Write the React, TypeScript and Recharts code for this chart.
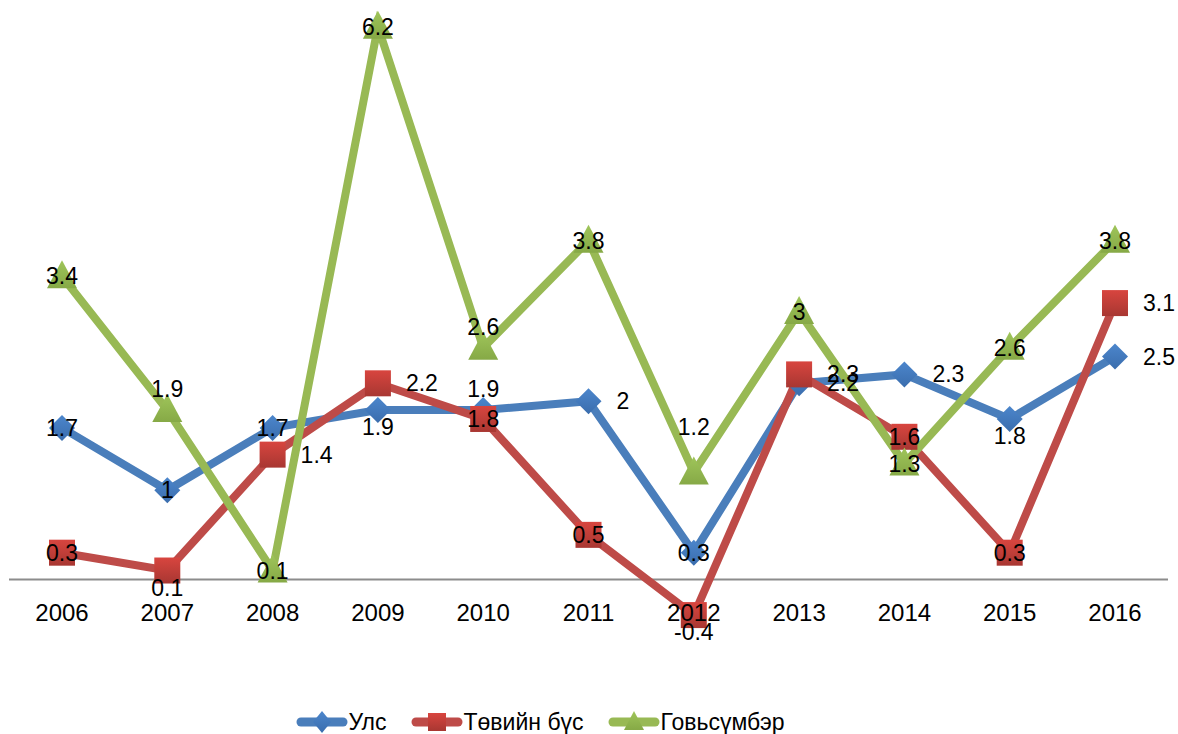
import React from 'react';
import { LineChart, Line, XAxis, YAxis, ReferenceLine, Legend, LabelList } from 'recharts';

const years = ['2006', '2007', '2008', '2009', '2010', '2011', '2012', '2013', '2014', '2015', '2016'];
const uls = [1.7, 1, 1.7, 1.9, 1.9, 2, 0.3, 2.2, 2.3, 1.8, 2.5];
const tuv = [0.3, 0.1, 1.4, 2.2, 1.8, 0.5, -0.4, 2.3, 1.6, 0.3, 3.1];
const gov = [3.4, 1.9, 0.1, 6.2, 2.6, 3.8, 1.2, 3, 1.3, 2.6, 3.8];

// where each data label sits: c = on marker, r = right, a = above, A = far above, b = below
const ulsLabelPos = ['c', 'c', 'c', 'b', 'a', 'r', 'c', 'r', 'r', 'b', 'r'];
const tuvLabelPos = ['c', 'b', 'r', 'r', 'c', 'c', 'b', 'r', 'c', 'c', 'r'];
const govLabelPos = ['c', 'a', 'c', 'c', 'a', 'c', 'A', 'c', 'c', 'c', 'c'];

const data = years.map((year, i) => ({ year, uls: uls[i], tuv: tuv[i], gov: gov[i] }));

const FONT = '"Liberation Sans", Arial, sans-serif';
const BLUE = '#4A7EBB';
const RED = '#BE4B48';
const GREEN = '#98B954';

const marker = (kind: string, cx: number, cy: number, key?: any) => {
  if (kind === 'diamond') {
    return (
      <path key={key} d={`M${cx},${cy - 13} L${cx + 13},${cy} L${cx},${cy + 13} L${cx - 13},${cy} Z`} fill="url(#gBlue)" />
    );
  }
  if (kind === 'square') {
    return <rect key={key} x={cx - 13} y={cy - 13} width={26} height={26} fill="url(#gRed)" />;
  }
  return <path key={key} d={`M${cx},${cy - 16} L${cx + 15},${cy + 12} L${cx - 15},${cy + 12} Z`} fill="url(#gGreen)" />;
};

const makeDot = (kind: string) => (props: any) => {
  const { cx, cy, index } = props;
  if (cx == null || cy == null) return <g key={index} />;
  return marker(kind, cx, cy, `${kind}-${index}`);
};

const makeLabel = (pos: string[]) => (props: any) => {
  const { x, y, value, index } = props;
  const p = pos[index];
  let dx = 0;
  let dy = 0;
  let anchor: 'middle' | 'start' = 'middle';
  if (p === 'r') { dx = 28; anchor = 'start'; }
  if (p === 'a') dy = -21;
  if (p === 'A') dy = -46;
  if (p === 'b') dy = 17;
  return (
    <text x={x + dx} y={y + dy} dy="0.35em" textAnchor={anchor} fontSize={23} fill="#000" fontFamily={FONT}>
      {value}
    </text>
  );
};

const YearTick = (props: any) => {
  const { x, y, payload } = props;
  return (
    <text x={x} y={y} dy={-11} textAnchor="middle" fontSize={24} fill="#000" fontFamily={FONT}>
      {payload.value}
    </text>
  );
};

const legendItems = [
  { name: 'Улс', color: BLUE, kind: 'diamond' },
  { name: 'Төвийн бүс', color: RED, kind: 'square' },
  { name: 'Говьсүмбэр', color: GREEN, kind: 'triangle' },
];

const renderLegend = () => (
  <div style={{ display: 'flex', justifyContent: 'center', alignItems: 'center', gap: 24, height: 24, paddingRight: 97, fontFamily: FONT, fontSize: 23, color: '#000' }}>
    {legendItems.map((it) => (
      <div key={it.name} style={{ display: 'flex', alignItems: 'center', height: 24 }}>
        <svg width={52} height={24} style={{ display: 'block', overflow: 'visible' }}>
          <line x1={5} y1={12} x2={47} y2={12} stroke={it.color} strokeWidth={9} strokeLinecap="round" />
          {it.kind === 'diamond' && <path d="M26,1 L35,12 L26,23 L17,12 Z" fill="url(#gBlue)" />}
          {it.kind === 'square' && <rect x={17} y={3} width={18} height={18} fill="url(#gRed)" />}
          {it.kind === 'triangle' && <path d="M26,1 L36,20 L16,20 Z" fill="url(#gGreen)" />}
        </svg>
        <span style={{ marginLeft: 1, lineHeight: '24px' }}>{it.name}</span>
      </div>
    ))}
  </div>
);

export default function App() {
  return (
    <div style={{ position: 'absolute', left: 0, top: 0, width: 1178, height: 734, background: '#fff' }}>
      <svg width={0} height={0} style={{ position: 'absolute' }}>
        <defs>
          <linearGradient id="gBlue" x1="0" y1="0" x2="0" y2="1">
            <stop offset="0%" stopColor="#4C86CC" />
            <stop offset="100%" stopColor="#3A6DAD" />
          </linearGradient>
          <linearGradient id="gRed" x1="0" y1="0" x2="0" y2="1">
            <stop offset="0%" stopColor="#D8453F" />
            <stop offset="100%" stopColor="#A83732" />
          </linearGradient>
          <linearGradient id="gGreen" x1="0" y1="0" x2="0" y2="1">
            <stop offset="0%" stopColor="#9FC55A" />
            <stop offset="100%" stopColor="#86A946" />
          </linearGradient>
        </defs>
      </svg>
      <LineChart width={1178} height={734} data={data} margin={{ top: 0, right: 10, left: 9, bottom: 0 }}>
        <XAxis dataKey="year" height={86} axisLine={false} tickLine={false} tick={<YearTick />} interval={0} padding={{ left: 53, right: 53 }} />
        <YAxis hide domain={[-0.5, 6.5]} />
        <ReferenceLine y={0} stroke="#8C8C8C" strokeWidth={2} />
        <Legend verticalAlign="bottom" content={renderLegend} />
        <Line dataKey="uls" name="Улс" stroke={BLUE} strokeWidth={8} dot={makeDot('diamond')} activeDot={false} isAnimationActive={false}>
          <LabelList dataKey="uls" content={makeLabel(ulsLabelPos)} />
        </Line>
        <Line dataKey="tuv" name="Төвийн бүс" stroke={RED} strokeWidth={8} dot={makeDot('square')} activeDot={false} isAnimationActive={false}>
          <LabelList dataKey="tuv" content={makeLabel(tuvLabelPos)} />
        </Line>
        <Line dataKey="gov" name="Говьсүмбэр" stroke={GREEN} strokeWidth={8} dot={makeDot('triangle')} activeDot={false} isAnimationActive={false}>
          <LabelList dataKey="gov" content={makeLabel(govLabelPos)} />
        </Line>
      </LineChart>
    </div>
  );
}
